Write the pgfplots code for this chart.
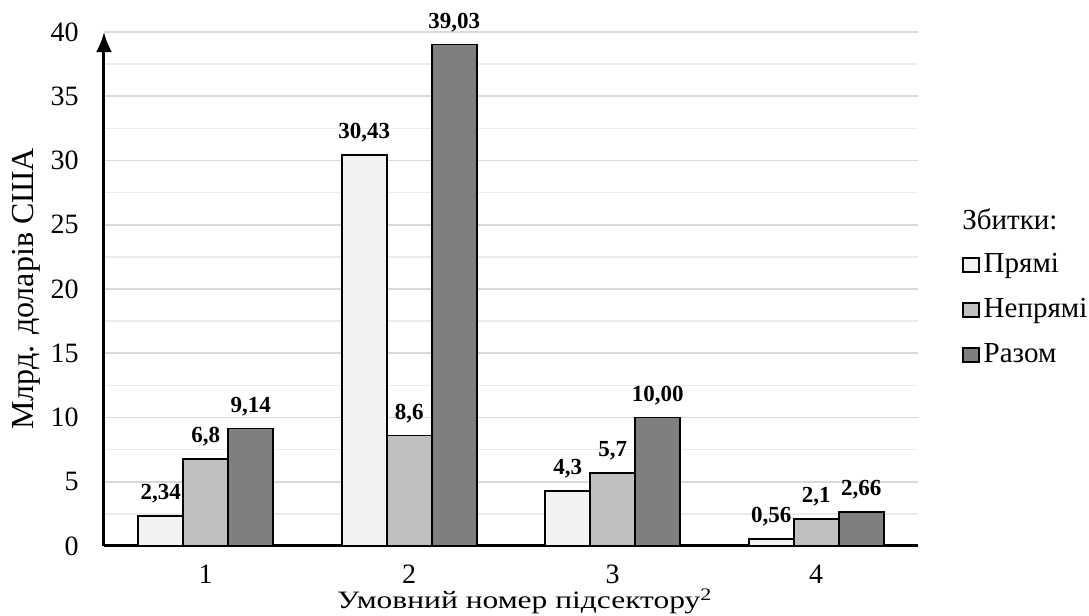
\documentclass[border=0pt]{standalone}
\usepackage{fontspec}
\setmainfont{Liberation Serif}
\newfontfamily\wideserif{Liberation Serif}[FakeStretch=1.26]
\usepackage{pgfplots}
\pgfplotsset{compat=1.18}
\usetikzlibrary{arrows.meta}

\definecolor{cPr}{HTML}{F2F2F2}
\definecolor{cNp}{HTML}{BFBFBF}
\definecolor{cRz}{HTML}{7F7F7F}
\definecolor{cGrid}{HTML}{D9D9D9}
\definecolor{cMinor}{HTML}{EBEBEB}

\begin{document}
\begin{tikzpicture}
\useasboundingbox (-52pt,-35pt) rectangle (492.5pt,273pt);
\pgfplotsset{
    mybar/.style={draw=black, line width=0.9pt, fill=#1,
        legend image code/.code={
            \draw[##1, line width=0.7pt] (0pt,-3.5pt) rectangle (8pt,3.5pt);
        }},
}
\begin{axis}[
    at={(0,0)}, anchor=south west,
    scale only axis, width=407pt, height=257pt,
    clip=false,
    ybar=0pt, bar width=22.5pt,
    xmin=0.5, xmax=4.5, ymin=0, ymax=40,
    xtick={1,2,3,4}, ytick={0,5,...,40},
    minor ytick={2.5,7.5,...,37.5},
    ymajorgrids, yminorgrids,
    major grid style={cGrid, line width=0.8pt},
    minor grid style={cMinor, line width=0.8pt},
    axis x line*=bottom, axis y line*=left,
    x axis line style={line width=1.5pt, -},
    y axis line style={line width=1.5pt, -{Latex[length=10pt,width=8pt]}},
    major tick length=0pt, minor tick length=0pt,
    /pgf/number format/assume math mode=true,
    ticklabel style={font=\fontsize{14}{16}\selectfont, inner sep=0pt},
    yticklabel style={anchor=east, xshift=-12.5pt},
    xticklabel style={anchor=north, yshift=-9.5pt},
    ylabel={Млрд. доларів США},
    ylabel style={at={(axis description cs:-0.095,0.5)}, anchor=center,
        font=\fontsize{16}{18}\selectfont},
    xlabel={Умовний номер підсектору\textsuperscript{2}},
    xlabel style={at={(axis description cs:0.517,-0.1225)}, anchor=base,
        font=\wideserif\fontsize{12.5}{14}\selectfont},
    point meta=explicit symbolic,
    nodes near coords,
    nodes near coords style={font=\bfseries\fontsize{11.5}{13}\selectfont,
        anchor=south, inner sep=0pt, yshift=6pt},
    legend style={at={(axis description cs:1.054,0.459)}, anchor=west,
        draw=none, fill=none, inner sep=0pt, row sep=9.5pt, column sep=2pt,
        font=\fontsize{14.5}{16}\selectfont,
        nodes={inner sep=0pt, text height=10pt, text depth=3pt},
        cells={anchor=west}},
]
% Прямі
\addplot[mybar=cPr] coordinates {(1,2.34) [2,34] (2,30.43) [30,43] (3,4.3) [4,3] (4,0.56) [0,56]};
\addlegendentry{Прямі}
% Непрямі
\addplot[mybar=cNp] coordinates {(1,6.8) [6,8] (2,8.6) [8,6] (3,5.7) [5,7] (4,2.1) [2,1]};
\addlegendentry{Непрямі}
% Разом
\addplot[mybar=cRz] coordinates {(1,9.14) [9,14] (2,39.03) [39,03] (3,10.00) [10,00] (4,2.66) [2,66]};
\addlegendentry{Разом}

\node[anchor=base west, inner sep=0pt, font=\fontsize{14.5}{16}\selectfont]
    at (axis description cs:1.054,0.615) {Збитки:};
\end{axis}
\end{tikzpicture}
\end{document}
